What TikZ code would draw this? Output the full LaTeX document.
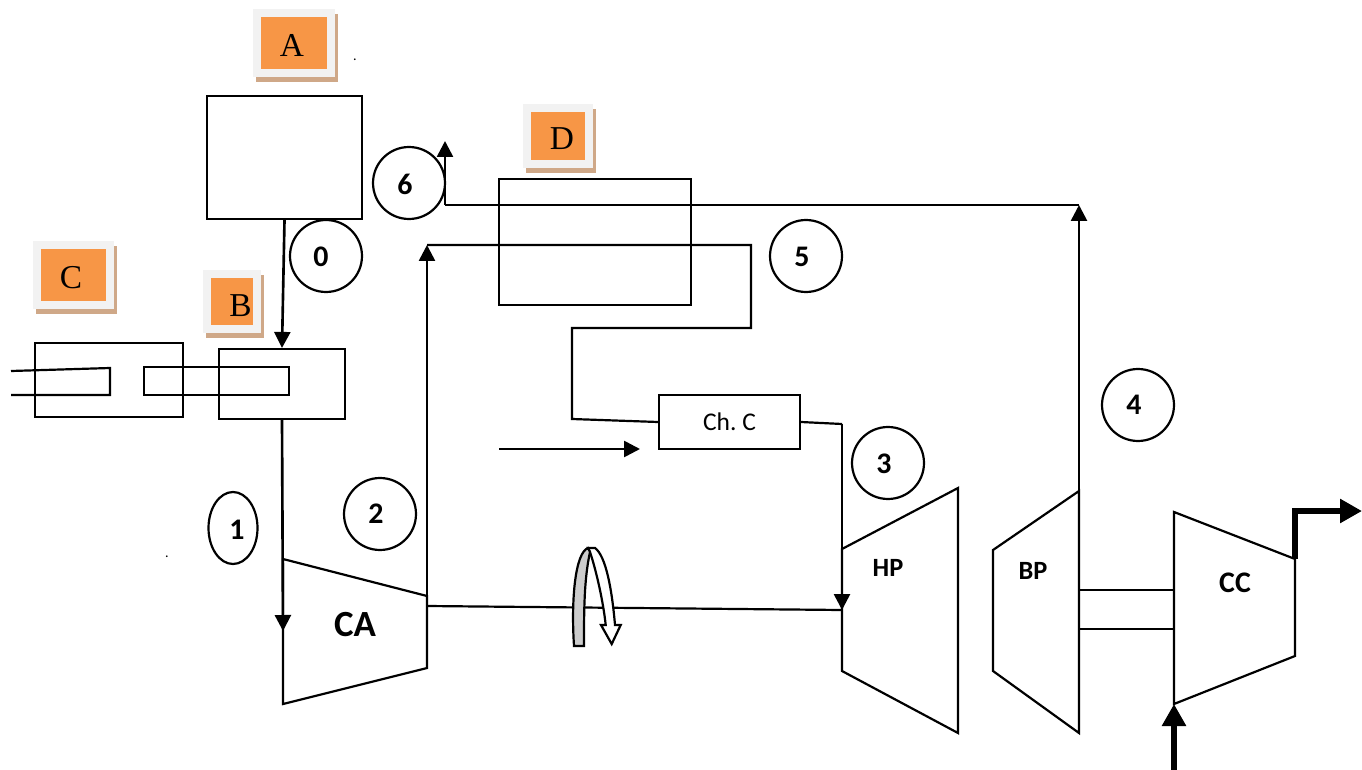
\documentclass[tikz,border=0pt]{standalone}
\usepackage{fontspec}
\setmainfont{Carlito}
\newfontfamily\tagfont{Liberation Serif}
\usetikzlibrary{arrows.meta, shadows, shapes.geometric}
\definecolor{tagorange}{HTML}{F79646}
\definecolor{taggrey}{HTML}{F2F2F2}
\definecolor{tagtan}{HTML}{CFA888}
\definecolor{bandgrey}{HTML}{CCCCCC}

\begin{document}
\begin{tikzpicture}[
  x=0.02cm, y=-0.02cm,
  line width=1.25pt,
  box/.style={draw, inner sep=0pt, minimum width=#1},
  num/.style={draw, circle, minimum size=1.44cm, inner sep=0pt},
  digit/.style={inner sep=0pt, font=\fontsize{17}{17}\selectfont\bfseries},
  tag/.style={fill=tagorange, draw=taggrey, line width=0.16cm, inner sep=0pt,
              font=\fontsize{19}{19}\selectfont\tagfont, text depth=0pt,
              general shadow={fill=tagtan, draw=tagtan, line width=0.16cm,
                              shadow xshift=0.06cm, shadow yshift=-0.1cm}},
  mach/.style={font=\fontsize{#1}{#1}\selectfont\bfseries},
  ar/.style={line width=1.5pt, -{Triangle[length=3.2mm, width=3.2mm]}},
  thickar/.style={line width=3.8pt, -{Triangle[length=4.4mm, width=4.6mm]}},
  dot/.style={inner sep=0pt, font=\fontsize{8}{8}\selectfont},
]
\useasboundingbox (0,0) rectangle (1362,770);

% ===================== Labels =====================
\node[tag, minimum width=1.48cm, minimum height=1.2cm, text height=0.55cm] (tagA) at (294,43) {A\hspace*{0.08cm}};
\node[tag, minimum width=1.46cm, minimum height=1.2cm, text height=0.55cm] (tagC) at (73.5,275) {C\hspace*{0.1cm}};
\node[tag, minimum width=1cm, minimum height=1.1cm, text height=0.6cm] (tagB) at (232,301.5) {\hspace*{0.34cm}B};
\node[tag, minimum width=1.24cm, minimum height=1.14cm, text height=0.56cm] (tagD) at (558,136) {\hspace*{0.16cm}D};
\node[dot] (dotA) at (355,60) {.};
\node[dot] (dotB) at (167,557) {.};

% ===================== Boxes =====================
\node[box=3.1cm, minimum height=2.46cm] (boxA) at (284.5,157.5) {};
\node[box=2.96cm, minimum height=1.48cm] (boxC) at (109,380) {};
\node[box=2.52cm, minimum height=1.4cm] (boxB) at (282,384) {};
\node[box=2.9cm, minimum height=0.56cm] (lance) at (216.5,381) {};
\node[box=3.84cm, minimum height=2.52cm] (boxD) at (595,242) {};
\node[box=2.82cm, minimum height=1.08cm, font=\fontsize{14.5}{14.5}\selectfont] (chC) at (729.5,422) {Ch.~C};

% ===================== Machines =====================
\draw (283,559) coordinate (CAa) -- (427,596) coordinate (CAb) -- (427,668) -- (283,704) -- cycle;
\draw (842,549) coordinate (HPa) -- (958,488) -- (958,733) -- (842,671) -- cycle;
\draw (993,550) -- (1079,491) coordinate (BPa) -- (1079,733) -- (993,671) -- cycle;
\draw (1174,512) coordinate (CCa) -- (1295,559) coordinate (CCb) -- (1295,656) -- (1174,704) coordinate (CCc) -- cycle;
\node[mach=21] (CA) at (355,625) {CA};
\node[mach=15] (HP) at (888,568) {HP};
\node[mach=15] (BP) at (1033,571) {BP};
\node[mach=17] (CC) at (1235,583) {CC};

% ===================== Numbers =====================
\node[num] (n0) at (326,256) {};
\node[num] (n6) at (409,183) {};
\node[num] (n5) at (806,256) {};
\node[num] (n4) at (1138,405) {};
\node[num] (n3) at (888,463) {};
\node[num] (n2) at (380,514) {};
\node[draw, ellipse, minimum width=0.98cm, minimum height=1.44cm, inner sep=0pt] (n1) at (233,528) {};
\node[digit] (d0) at (321,257) {0};
\node[digit] (d6) at (405,184) {6};
\node[digit] (d5) at (802,257) {5};
\node[digit] (d4) at (1134,405) {4};
\node[digit] (d3) at (884,464) {3};
\node[digit] (d2) at (376,514) {2};
\node[digit] (d1) at (237,530) {1};

% ===================== Connectors =====================
\coordinate (CAin) at (283,631);
\coordinate (hot) at (427,245);
\coordinate (exh) at (1079,205);
\coordinate (stack) at (445,205);
\coordinate (stackout) at (445,141);
\coordinate (HPin) at (842,610);
\coordinate (fuel) at (499,449);
\coordinate (feedA) at (11,371);
\coordinate (feedB) at (11,395);
\coordinate (shaftA) at (427,606);
\coordinate (ccout) at (1362,511);
\coordinate (ccin) at (1174,770);

\draw[ar] (boxA.south) -- (boxB.north);
\draw[ar] (boxB.south) -- (CAin);
\draw[ar] (CAb) -- (hot);
\draw (hot) -- (751,245) -- (751,328) -- (572,328) -- (572,419) -- (chC.west);
\draw[ar] (fuel) -- (640,449);
\draw (chC.east) -- (842,424) coordinate (chCout);
\draw[ar] (chCout) -- (HPin);
\draw[ar] (BPa) -- (exh);
\draw (exh) -- (stack);
\draw[ar] (stack) -- (stackout);
\draw (feedA) -- (110,368) -- (110,395) -- (feedB);
\draw (shaftA) -- (HPin);
\draw (1079,590) -- (1174,590);
\draw (1079,629) -- (1174,629);
\draw[thickar] (CCb) -- (1295,511) -- (ccout);
\draw[thickar] (ccin) -- (CCc);

% rotation arrow on the shaft
\draw[fill=white] (590,552) .. controls (596,570) and (603,600) .. (605.7,625) -- (601,625) -- (611.7,644)
  -- (620.7,625) -- (615,625) .. controls (612,590) and (606,556) .. (595,548) -- (588,548) -- cycle;
\draw[fill=bandgrey] (574,646) .. controls (571,600) and (575,553) .. (588,548)
  -- (590,552) .. controls (584,580) and (584,610) .. (584,646) -- cycle;
\end{tikzpicture}
\end{document}
